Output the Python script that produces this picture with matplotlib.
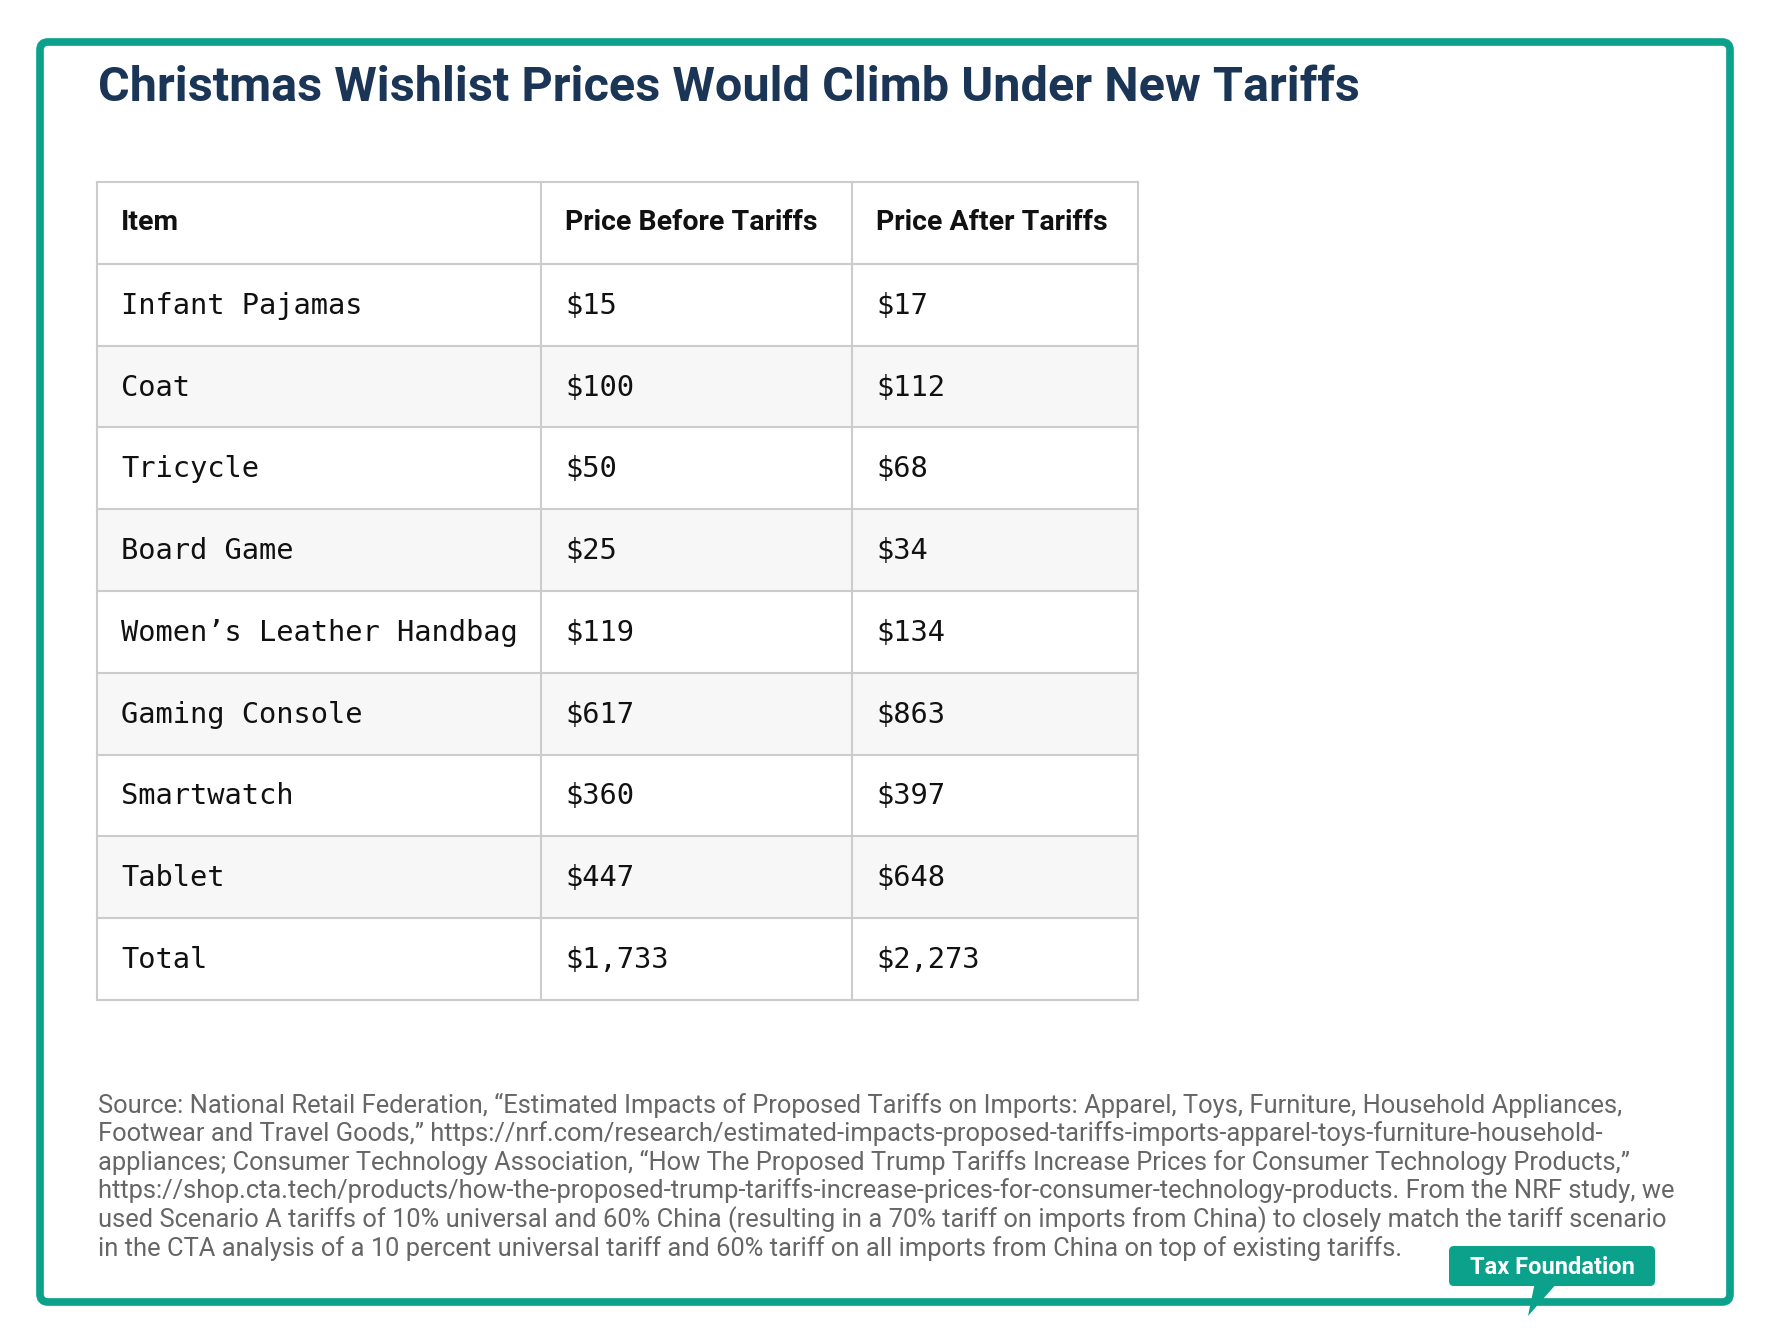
import matplotlib.pyplot as plt
from matplotlib.patches import FancyBboxPatch, Rectangle, Polygon

# Table data
items = ['Infant Pajamas', 'Coat', 'Tricycle', 'Board Game', 'Women\u2019s Leather Handbag',
         'Gaming Console', 'Smartwatch', 'Tablet', 'Total']
before = ['$15', '$100', '$50', '$25', '$119', '$617', '$360', '$447', '$1,733']
after = ['$17', '$112', '$68', '$34', '$134', '$863', '$397', '$648', '$2,273']
headers = ['Item', 'Price Before Tariffs', 'Price After Tariffs']

title = 'Christmas Wishlist Prices Would Climb Under New Tariffs'
source = ('Source: National Retail Federation, \u201cEstimated Impacts of Proposed Tariffs on Imports: Apparel, Toys, Furniture, Household Appliances,\n'
          'Footwear and Travel Goods,\u201d https://nrf.com/research/estimated-impacts-proposed-tariffs-imports-apparel-toys-furniture-household-\n'
          'appliances; Consumer Technology Association, \u201cHow The Proposed Trump Tariffs Increase Prices for Consumer Technology Products,\u201d\n'
          'https://shop.cta.tech/products/how-the-proposed-trump-tariffs-increase-prices-for-consumer-technology-products. From the NRF study, we\n'
          'used Scenario A tariffs of 10% universal and 60% China (resulting in a 70% tariff on imports from China) to closely match the tariff scenario\n'
          'in the CTA analysis of a 10 percent universal tariff and 60% tariff on all imports from China on top of existing tariffs.')

teal = '#0ba18b'
W, H = 1766, 1339
fig = plt.figure(figsize=(W / 100, H / 100), dpi=100)
ax = fig.add_axes([0, 0, 1, 1])
ax.set_xlim(0, W)
ax.set_ylim(H, 0)
ax.axis('off')

# frame
ax.add_patch(FancyBboxPatch((40, 42), 1690, 1260, boxstyle='round,pad=0,rounding_size=8',
                            fc='white', ec=teal, lw=5.5, zorder=1))

ax.text(98, 88, title, fontsize=35, fontweight='bold', color='#1b3556',
        family='Roboto', va='center', ha='left', zorder=3)

# table geometry
col_x = [97, 541, 852, 1138]
top, row_h = 182, 81.8
line_c = '#cccccc'
n_rows = len(items) + 1
for r in range(n_rows):
    y0 = top + r * row_h
    if r > 0 and r % 2 == 0:
        ax.add_patch(Rectangle((col_x[0], y0), col_x[-1] - col_x[0], row_h,
                               fc='#f7f7f7', ec='none', zorder=2))
    ax.plot([col_x[0], col_x[-1]], [y0, y0], color=line_c, lw=1.5, zorder=3)
ax.plot([col_x[0], col_x[-1]], [top + n_rows * row_h] * 2, color=line_c, lw=1.5, zorder=3)
for x in col_x:
    ax.plot([x, x], [top, top + n_rows * row_h], color=line_c, lw=1.5, zorder=3)

for c, h in enumerate(headers):
    ax.text(col_x[c] + 24, top + row_h / 2, h, fontsize=20.5, fontweight='bold',
            family='Roboto', color='#111111', va='center', zorder=4)
for r, vals in enumerate(zip(items, before, after), start=1):
    for c, v in enumerate(vals):
        ax.text(col_x[c] + 24, top + r * row_h + row_h / 2 + 1, v, fontsize=20.7,
                family='DejaVu Sans Mono', color='#111111', va='center', zorder=4)

ax.text(98, 1093, source, fontsize=18.4, family='Roboto', color='#666666',
        va='top', ha='left', linespacing=1.16, zorder=4)

# Tax Foundation badge
ax.add_patch(Polygon([[1535, 1282], [1558, 1282], [1528, 1316]], closed=True,
                     fc=teal, ec='none', zorder=5))
ax.add_patch(FancyBboxPatch((1449, 1246), 206, 40, boxstyle='round,pad=0,rounding_size=5',
                            fc=teal, ec='none', zorder=5))
ax.text(1552, 1267, 'Tax Foundation', fontsize=17, fontweight='bold', family='Roboto',
        color='white', ha='center', va='center', zorder=6)

fig.savefig('out.png', dpi=100)
